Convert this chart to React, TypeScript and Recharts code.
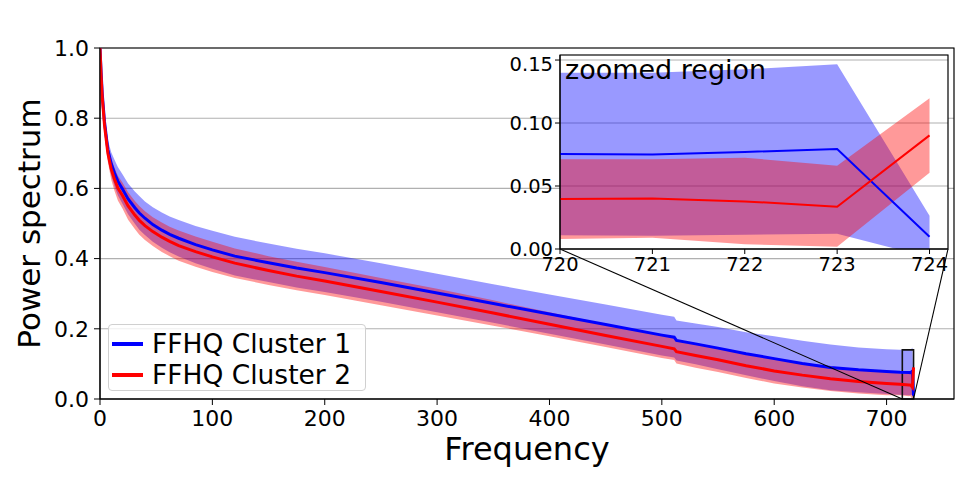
import React from "react";
import {
  ComposedChart,
  Line,
  Area,
  XAxis,
  YAxis,
  CartesianGrid,
  ReferenceArea,
  ReferenceLine,
  Legend,
} from "recharts";

/* ---------- data ---------- */
const freq = [0, 1, 2, 4, 7, 10, 13, 16, 20, 25, 31, 35, 40, 47, 55, 62, 70, 85, 100, 120, 150, 175, 200, 250, 300, 350, 400, 450, 500, 511, 513, 530, 550, 575, 600, 625, 650, 675, 700, 712, 720, 721, 722, 723, 724];

// FFHQ Cluster 1 (blue): mean and +/- std band
const c1Mean = [1.0, 0.93, 0.87, 0.79, 0.71, 0.67, 0.643, 0.62, 0.598, 0.57, 0.545, 0.53, 0.515, 0.497, 0.481, 0.469, 0.458, 0.44, 0.425, 0.407, 0.388, 0.373, 0.36, 0.332, 0.302, 0.272, 0.242, 0.212, 0.182, 0.176, 0.167, 0.157, 0.145, 0.129, 0.115, 0.101, 0.09, 0.083, 0.078, 0.076, 0.0754, 0.0751, 0.077, 0.0794, 0.0098];
const c1High = [1.0, 0.94, 0.885, 0.81, 0.738, 0.703, 0.681, 0.66, 0.64, 0.614, 0.591, 0.578, 0.563, 0.546, 0.531, 0.52, 0.51, 0.493, 0.479, 0.462, 0.443, 0.428, 0.415, 0.387, 0.357, 0.327, 0.298, 0.269, 0.24, 0.234, 0.224, 0.215, 0.205, 0.19, 0.179, 0.166, 0.155, 0.147, 0.142, 0.14, 0.14, 0.14, 0.1426, 0.1466, 0.0264];
const c1Low = [1.0, 0.92, 0.855, 0.77, 0.682, 0.637, 0.605, 0.58, 0.556, 0.526, 0.499, 0.482, 0.467, 0.448, 0.431, 0.418, 0.406, 0.387, 0.371, 0.352, 0.333, 0.318, 0.305, 0.277, 0.247, 0.217, 0.186, 0.155, 0.124, 0.118, 0.11, 0.099, 0.085, 0.068, 0.051, 0.036, 0.025, 0.019, 0.014, 0.012, 0.011, 0.0105, 0.0114, 0.0122, -0.0068];

// FFHQ Cluster 2 (red): mean and +/- std band
const c2Mean = [1.0, 0.92, 0.86, 0.78, 0.7, 0.655, 0.625, 0.6, 0.58, 0.55, 0.524, 0.509, 0.494, 0.477, 0.461, 0.449, 0.437, 0.42, 0.405, 0.387, 0.366, 0.35, 0.336, 0.306, 0.276, 0.245, 0.213, 0.181, 0.15, 0.143, 0.135, 0.124, 0.112, 0.095, 0.08, 0.068, 0.058, 0.05, 0.044, 0.0418, 0.0397, 0.04, 0.0378, 0.0336, 0.0902];
const c2High = [1.0, 0.93, 0.875, 0.8, 0.725, 0.685, 0.658, 0.635, 0.617, 0.589, 0.564, 0.55, 0.535, 0.518, 0.503, 0.491, 0.48, 0.463, 0.448, 0.429, 0.407, 0.391, 0.376, 0.345, 0.314, 0.281, 0.247, 0.214, 0.183, 0.175, 0.169, 0.159, 0.147, 0.131, 0.116, 0.104, 0.093, 0.084, 0.077, 0.073, 0.0712, 0.0712, 0.0725, 0.066, 0.1196];
const c2Low = [1.0, 0.91, 0.845, 0.76, 0.675, 0.625, 0.592, 0.565, 0.543, 0.511, 0.484, 0.468, 0.453, 0.436, 0.419, 0.407, 0.394, 0.377, 0.362, 0.345, 0.325, 0.31, 0.296, 0.267, 0.238, 0.209, 0.179, 0.148, 0.117, 0.111, 0.101, 0.089, 0.077, 0.06, 0.044, 0.033, 0.023, 0.016, 0.011, 0.0108, 0.0079, 0.009, 0.0037, 0.0018, 0.0606];

const xTicks = [0, 100, 200, 300, 400, 500, 600, 700];
const yTicks = [0, 0.2, 0.4, 0.6, 0.8, 1.0];
const insetXTicks = [720, 721, 722, 723, 724];
const insetYTicks = [0, 0.05, 0.1, 0.15];

const names = ["FFHQ Cluster 1", "FFHQ Cluster 2"];

/* ---------- layout ---------- */
const FONT = "DejaVu Sans";
const W = 969;
const H = 485;
const PLOT = { left: 100, top: 48, right: 954, bottom: 399 };
const X_MAX = 760;
const INSET = { left: 560, top: 55, right: 948, bottom: 249 };
const INSET_X: [number, number] = [720, 724.2];
const INSET_Y: [number, number] = [0, 0.154];
const INSET_YW = 52;
const ZOOM_BOX = { x1: 714, x2: 724, y1: 0, y2: 0.14 };

// pixel -> main-chart data coords (for the connector lines to the inset)
const toX = (px: number) => ((px - PLOT.left) / (PLOT.right - PLOT.left)) * X_MAX;
const toY = (py: number) => (PLOT.bottom - py) / (PLOT.bottom - PLOT.top);

const rows = freq.map((f, i) => ({
  freq: f,
  c1: c1Mean[i],
  c2: c2Mean[i],
  c1Band: [c1Low[i], c1High[i]],
  c2Band: [c2Low[i], c2High[i]],
}));
const insetRows = rows.filter((r) => r.freq >= INSET_X[0]);

const BLUE = "#0000ff";
const RED = "#ff0000";

function LegendBox({ payload }: any) {
  const items = (payload || []).filter((p: any) => p.type !== "none");
  return (
    <div
      style={{
        width: 256,
        height: 65,
        border: "1px solid #d0d0d0",
        borderRadius: 4,
        background: "rgba(255,255,255,0.8)",
        position: "relative",
        fontFamily: FONT,
        fontSize: 26.5,
      }}
    >
      {items.map((p: any, i: number) => (
        <div
          key={p.value}
          style={{ position: "absolute", left: 0, top: 4 + i * 31, height: 30, display: "flex", alignItems: "center" }}
        >
          <span style={{ display: "inline-block", marginLeft: 3, width: 31, height: 4, background: p.color }} />
          <span style={{ marginLeft: 9, color: "#000", lineHeight: "30px", whiteSpace: "nowrap" }}>{p.value}</span>
        </div>
      ))}
    </div>
  );
}

function Inset() {
  const w = INSET_YW + (INSET.right - INSET.left) + 4;
  const h = 2 + (INSET.bottom - INSET.top) + 30;
  return (
    <div style={{ position: "absolute", left: INSET.left - INSET_YW, top: INSET.top - 2 }}>
      <ComposedChart width={w} height={h} data={insetRows} margin={{ top: 2, right: 4, bottom: 0, left: 0 }}>
        <CartesianGrid vertical={false} stroke="#b0b0b0" strokeWidth={1.1} fill="#fff" fillOpacity={1} />
        <XAxis
          dataKey="freq"
          type="number"
          domain={INSET_X}
          ticks={insetXTicks}
          allowDataOverflow
          height={30}
          tickSize={5}
          tickMargin={3}
          stroke="#000"
          tick={{ fontSize: 19.5, fill: "#000", fontFamily: FONT }}
        />
        <YAxis
          type="number"
          domain={INSET_Y}
          ticks={insetYTicks}
          allowDataOverflow
          width={INSET_YW}
          tickSize={5}
          tickMargin={2}
          stroke="#000"
          tickFormatter={(v: number) => v.toFixed(2)}
          tick={{ fontSize: 19.5, fill: "#000", fontFamily: FONT }}
        />
        <Area dataKey="c1Band" type="linear" stroke="none" fill={BLUE} fillOpacity={0.4} isAnimationActive={false} legendType="none" />
        <Area dataKey="c2Band" type="linear" stroke="none" fill={RED} fillOpacity={0.4} isAnimationActive={false} legendType="none" />
        <Line dataKey="c1" type="linear" stroke={BLUE} strokeWidth={2} dot={false} isAnimationActive={false} />
        <Line dataKey="c2" type="linear" stroke={RED} strokeWidth={2} dot={false} isAnimationActive={false} />
        <ReferenceArea
          x1={INSET_X[0]}
          x2={INSET_X[1]}
          y1={INSET_Y[0]}
          y2={INSET_Y[1]}
          fill="none"
          stroke="#000"
          strokeWidth={1.2}
          ifOverflow="visible"
          label={{ value: "zoomed region", position: "insideTopLeft", offset: 5, fontSize: 27, fill: "#000", fontFamily: FONT }}
        />
      </ComposedChart>
    </div>
  );
}

export default function App() {
  return (
    <div style={{ position: "absolute", left: 0, top: 0, width: W, height: H, background: "#fff", fontFamily: FONT }}>
      <ComposedChart
        width={W}
        height={H}
        data={rows}
        margin={{ top: PLOT.top, right: W - PLOT.right, bottom: 0, left: 0 }}
      >
        <CartesianGrid vertical={false} stroke="#b0b0b0" strokeWidth={1.1} />
        <XAxis
          dataKey="freq"
          type="number"
          domain={[0, X_MAX]}
          ticks={xTicks}
          allowDataOverflow
          height={H - PLOT.bottom}
          tickSize={6}
          tickMargin={5}
          stroke="#000"
          tick={{ fontSize: 22, fill: "#000", fontFamily: FONT }}
          label={{ value: "Frequency", position: "insideBottom", offset: 25, fontSize: 32, fill: "#000", fontFamily: FONT }}
        />
        <YAxis
          type="number"
          domain={[0, 1]}
          ticks={yTicks}
          allowDataOverflow
          width={PLOT.left}
          tickSize={6}
          tickMargin={5}
          stroke="#000"
          tickFormatter={(v: number) => v.toFixed(1)}
          tick={{ fontSize: 22, fill: "#000", fontFamily: FONT }}
          label={{
            value: "Power spectrum",
            angle: -90,
            position: "insideLeft",
            offset: 29,
            fontSize: 31,
            fill: "#000",
            fontFamily: FONT,
            style: { textAnchor: "middle" },
          }}
        />
        <Area dataKey="c1Band" type="linear" stroke="none" fill={BLUE} fillOpacity={0.4} isAnimationActive={false} legendType="none" />
        <Area dataKey="c2Band" type="linear" stroke="none" fill={RED} fillOpacity={0.4} isAnimationActive={false} legendType="none" />
        <Line dataKey="c1" name={names[0]} type="linear" stroke={BLUE} strokeWidth={3} dot={false} isAnimationActive={false} />
        <Line dataKey="c2" name={names[1]} type="linear" stroke={RED} strokeWidth={3} dot={false} isAnimationActive={false} />
        <ReferenceArea x1={0} x2={X_MAX} y1={0} y2={1} fill="none" stroke="#000" strokeWidth={1.2} ifOverflow="visible" />
        <ReferenceArea
          x1={ZOOM_BOX.x1}
          x2={ZOOM_BOX.x2}
          y1={ZOOM_BOX.y1}
          y2={ZOOM_BOX.y2}
          fill="none"
          stroke="#111"
          strokeWidth={1.6}
          ifOverflow="visible"
        />
        <ReferenceLine
          segment={[
            { x: ZOOM_BOX.x1, y: ZOOM_BOX.y1 },
            { x: toX(INSET.left), y: toY(INSET.bottom) },
          ]}
          stroke="#000"
          strokeWidth={1.1}
          ifOverflow="visible"
        />
        <ReferenceLine
          segment={[
            { x: ZOOM_BOX.x2, y: ZOOM_BOX.y1 },
            { x: toX(INSET.right), y: toY(INSET.bottom) },
          ]}
          stroke="#000"
          strokeWidth={1.1}
          ifOverflow="visible"
        />
        <Legend
          layout="vertical"
          align="center"
          verticalAlign="middle"
          content={<LegendBox />}
          wrapperStyle={{ left: 108, top: 324, width: 258, height: 67 }}
        />
      </ComposedChart>
      <Inset />
    </div>
  );
}
